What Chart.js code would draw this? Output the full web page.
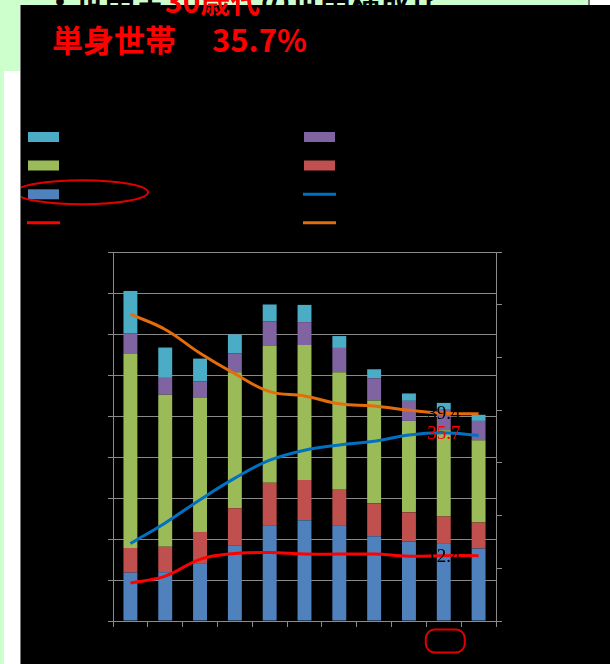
<!DOCTYPE html>
<html lang="ja">
<head>
<meta charset="utf-8">
<title>世帯主30歳代の世帯構成</title>
<script src="https://cdn.jsdelivr.net/npm/chart.js@4.4.1/dist/chart.umd.min.js"></script>
<style>
  html, body { margin: 0; padding: 0; width: 610px; height: 664px; overflow: hidden; background: #ccffcc; }
  ::-webkit-scrollbar { display: none; width: 0; height: 0; }
  body { position: relative; }
  #side { position: absolute; left: 4px; top: 71px; width: 16px; height: 593px; background: #fff; }
  #corner { position: absolute; left: 588px; top: 0; width: 20px; height: 5px; background: #fff; border-left: 2px solid #777; }
  #topline { position: absolute; left: 45px; top: -15px; font: bold 30px "Noto Sans CJK JP"; line-height: 30px; white-space: nowrap; color: #000; }
  #topline .hl { color: #f00; position: relative; z-index: 3; }
  #board { position: absolute; left: 20px; top: 5px; width: 590px; height: 659px; background: #000; box-shadow: inset 1px 0 0 #777; z-index: 1; }
  #title { position: absolute; left: 52px; top: 23px; z-index: 2; color: #f00; font: bold 31px "Noto Sans CJK JP"; line-height: 31px; white-space: nowrap; }
  #title span { margin-left: 5px; }
  #chart { position: absolute; left: 21px; top: 5px; z-index: 2; }
</style>
</head>
<body>
<div id="side"></div>
<div id="corner"></div>
<div id="topline">・世帯主<span class="hl">30歳代</span>の世帯構成比</div>
<div id="board"></div>
<div id="title">単身世帯　<span>35.7%</span></div>
<canvas id="chart" width="589" height="659"></canvas>
<script>
// 国勢調査年
const years = ['1970', '1975', '1980', '1985', '1990', '1995', '2000', '2005', '2010', '2015', '2020'];

// 家族類型別世帯数（万世帯）
const single = [118, 119, 141, 185, 232, 246, 232, 207, 194, 188, 177];
const couple = [60, 62, 76, 90, 105, 98, 90, 80, 71, 67, 63];
const coupleKids = [473, 371, 328, 332, 335, 329, 285, 251, 223, 210, 201];
const loneParent = [50, 41, 39, 46, 59, 56, 59, 54, 49, 52, 47];
const others = [104, 74, 56, 46, 41, 42, 29, 22, 18, 15, 15];

// 構成比（％）
const singleRate = [14.7, 18.6, 23.0, 27.1, 30.5, 32.4, 33.4, 34.1, 35.3, 35.7, 35.2];
const coupleRate = [7.2, 8.5, 11.7, 12.8, 13.0, 12.7, 12.7, 12.7, 12.3, 12.4, 12.4];
const coupleKidsRate = [58.2, 55.3, 50.8, 46.9, 43.5, 42.7, 41.2, 40.8, 40.0, 39.4, 39.3];

// 左軸・右軸の目盛
const countTicks = [0, 100, 200, 300, 400, 500, 600, 700, 800, 900];
const rateTicks = [0, 10, 20, 30, 40, 50, 60, 70];

// 値を表示する年（2015）
const labelIndex = 9;

const gridColor = '#8a8a8a';

function barSet(label, data, color) {
    return { type: 'bar', label: label, data: data, backgroundColor: color, yAxisID: 'y', order: 1,
             barPercentage: 0.4, categoryPercentage: 1.0 };
}

function lineSet(label, data, color, labelColor) {
    return { type: 'line', label: label, data: data, borderColor: color, backgroundColor: color,
             yAxisID: 'y2', order: 0, borderWidth: 3, pointRadius: 0, tension: 0.4, labelColor: labelColor };
}

const datasets = [
    barSet('単身世帯', single, '#4F81BD'),
    barSet('夫婦のみ', couple, '#C0504D'),
    barSet('夫婦と子供', coupleKids, '#9BBB59'),
    barSet('ひとり親と子供', loneParent, '#8064A2'),
    barSet('その他の世帯', others, '#4BACC6'),
    lineSet('単身世帯の割合', singleRate, '#0070C0', '#ff0000'),
    lineSet('夫婦のみの割合', coupleRate, '#ff0000', '#000'),
    lineSet('夫婦と子供の割合', coupleKidsRate, '#E46C0A', '#000')
];

// 凡例の並び（2列）
const legendOrder = [4, 3, 2, 1, 0, 5, 6, 7];
const legendCols = [7, 283];
const legendRows = [132, 160.5, 189.3, 217.7];
const markedItem = 0;

// 凡例と囲み線を描くプラグイン
const legendPlugin = {
    id: 'twoColumnLegend',
    afterDraw(chart) {
        const ctx = chart.ctx;
        ctx.save();
        legendOrder.forEach((di, i) => {
            const ds = chart.data.datasets[di];
            const x = legendCols[i % 2];
            const y = legendRows[Math.floor(i / 2)];
            if (ds.type === 'line') {
                ctx.strokeStyle = ds.borderColor;
                ctx.lineWidth = 3;
                ctx.beginPath();
                ctx.moveTo(x - 1, y);
                ctx.lineTo(x + 32, y);
                ctx.stroke();
            } else {
                ctx.fillStyle = ds.backgroundColor;
                ctx.fillRect(x, y - 5, 31, 10);
            }
            ctx.fillStyle = '#000';
            ctx.font = '14px "Noto Sans CJK JP"';
            ctx.textBaseline = 'middle';
            ctx.fillText(ds.label, x + 40, y);
            if (di === markedItem) {
                ctx.strokeStyle = '#e00000';
                ctx.lineWidth = 2;
                ctx.beginPath();
                ctx.ellipse(x + 54, y - 2, 66, 12, 0, 0, Math.PI * 2);
                ctx.stroke();
            }
        });

        // 2015年の目盛ラベルを囲む
        const cx = chart.scales.x.getPixelForValue(labelIndex) + 1.5;
        const cy = chart.chartArea.bottom + 20;
        ctx.strokeStyle = '#e00000';
        ctx.lineWidth = 2;
        ctx.beginPath();
        ctx.roundRect(cx - 19.5, cy - 11.5, 39, 23, 9);
        ctx.stroke();
        ctx.restore();
    }
};

// 折れ線の値ラベル
const valueLabelPlugin = {
    id: 'valueLabels',
    afterDatasetsDraw(chart) {
        const ctx = chart.ctx;
        ctx.save();
        ctx.font = '19px "Liberation Serif"';
        ctx.textAlign = 'center';
        ctx.textBaseline = 'middle';
        chart.data.datasets.forEach((ds, i) => {
            if (ds.type !== 'line') return;
            const pt = chart.getDatasetMeta(i).data[labelIndex];
            ctx.fillStyle = ds.labelColor;
            ctx.fillText(ds.data[labelIndex].toFixed(1), pt.x, pt.y + 1);
        });
        ctx.restore();
    }
};

new Chart(document.getElementById('chart').getContext('2d'), {
    type: 'bar',
    data: { labels: years, datasets: datasets },
    options: {
        responsive: false,
        animation: false,
        layout: { padding: { left: 87, right: 108, top: 247, bottom: 37 } },
        plugins: { legend: { display: false }, tooltip: { enabled: false } },
        scales: {
            x: {
                stacked: true,
                offset: true,
                ticks: { display: false },
                grid: { offset: true, drawOnChartArea: false, tickLength: 6, color: gridColor },
                border: { color: gridColor }
            },
            y: {
                stacked: true,
                min: countTicks[0],
                max: countTicks[countTicks.length - 1],
                afterBuildTicks: axis => { axis.ticks = countTicks.map(v => ({ value: v })); },
                ticks: { display: false },
                grid: { color: gridColor, tickLength: 5 },
                border: { color: gridColor }
            },
            y2: {
                position: 'right',
                min: rateTicks[0],
                max: rateTicks[rateTicks.length - 1],
                afterBuildTicks: axis => { axis.ticks = rateTicks.map(v => ({ value: v })); },
                ticks: { display: false },
                grid: { drawOnChartArea: false, color: gridColor, tickLength: 6 },
                border: { color: gridColor }
            }
        }
    },
    plugins: [valueLabelPlugin, legendPlugin]
});
</script>
</body>
</html>
